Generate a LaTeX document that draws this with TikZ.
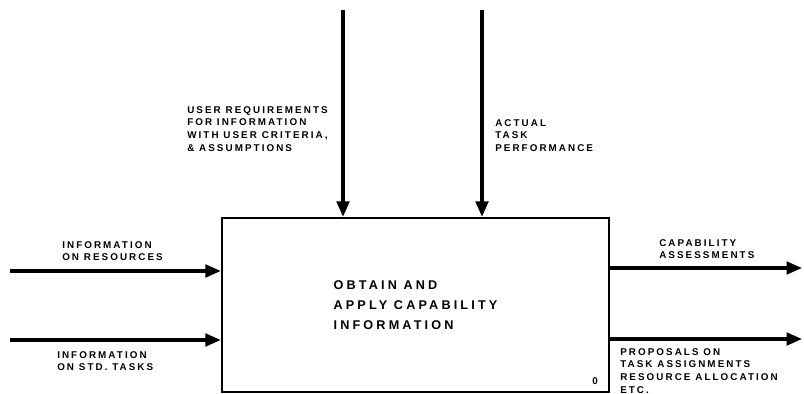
\documentclass[tikz,border=0pt]{standalone}
\usepackage{fontspec}
\setmainfont{Liberation Sans}
\newfontfamily\idefsmall{Liberation Sans}[LetterSpace=21]
\newfontfamily\idefbig{Liberation Sans}[LetterSpace=25]
\usetikzlibrary{arrows.meta,positioning}

\tikzset{
  flow/.style={line width=2.2pt, -{Triangle[length=11pt,width=9pt]}},
  activity/.style={draw, line width=1.6pt, minimum width=9.675cm, minimum height=4.35cm,
    align=left, font=\idefbig\bfseries\fontsize{9}{14.2}\selectfont},
  lbl/.style={font=\idefsmall\bfseries\fontsize{7}{9.1}\selectfont, align=left, inner sep=0pt, anchor=north west}
}

\begin{document}
\begin{tikzpicture}[x=0.025cm, y=-0.025cm]
  \useasboundingbox (0,0) rectangle (804,394);

  % the activity box
  \node[activity] (act) at (415.5,305) {OBTAIN AND\\APPLY CAPABILITY\\INFORMATION};
  \node[font=\idefsmall\bfseries\fontsize{7}{8}\selectfont, inner sep=0pt] (actno) at (595,381) {0};

  % controls from above
  \coordinate (ctl1) at (343,10);
  \coordinate (ctl2) at (482,10);
  \draw[flow] (ctl1) -- (ctl1 |- act.north);
  \draw[flow] (ctl2) -- (ctl2 |- act.north);

  % inputs
  \coordinate (in1) at (10,271);
  \coordinate (in2) at (10,340);
  \draw[flow] (in1) -- (in1 -| act.west);
  \draw[flow] (in2) -- (in2 -| act.west);

  % outputs
  \coordinate (out1) at (802,268);
  \coordinate (out2) at (802,339);
  \draw[flow] (out1 -| act.east) -- (out1);
  \draw[flow] (out2 -| act.east) -- (out2);

  % labels
  \node[lbl] (userreq) at (187,106) {USER REQUIREMENTS\\FOR INFORMATION\\WITH USER CRITERIA,\\\& ASSUMPTIONS};
  \node[lbl] (actual) at (495,119) {ACTUAL\\TASK\\PERFORMANCE};
  \node[lbl] (infores) at (62,241) {INFORMATION\\ON RESOURCES};
  \node[lbl] (infostd) at (57,351) {INFORMATION\\ON STD. TASKS};
  \node[lbl] (capab) at (659,239) {CAPABILITY\\ASSESSMENTS};
  \node[lbl] (propos) at (620,348) {PROPOSALS ON\\TASK ASSIGNMENTS\\RESOURCE ALLOCATION\\ETC.};
\end{tikzpicture}
\end{document}
